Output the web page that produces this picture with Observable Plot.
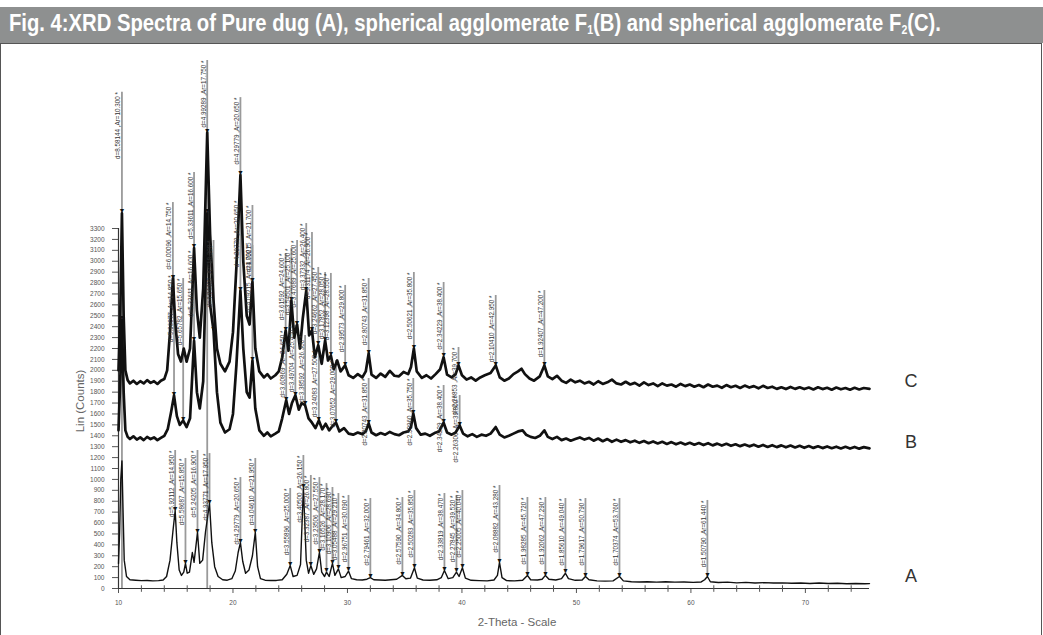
<!DOCTYPE html>
<html><head><meta charset="utf-8">
<script src="https://cdn.jsdelivr.net/npm/d3@7"></script>
<script src="https://cdn.jsdelivr.net/npm/@observablehq/plot@0.6"></script>
<style>
html,body{margin:0;padding:0;background:#fff;width:1043px;height:635px;overflow:hidden;position:relative;font-family:"Liberation Sans",Arial,sans-serif;}
#hdr{position:absolute;left:0;top:7px;width:1043px;height:36px;background:#8e9090;}
#hdr span{position:absolute;left:9px;top:3px;color:#fff;font-weight:bold;font-size:23px;white-space:nowrap;font-family:"Liberation Sans Narrow","Arial Narrow","Liberation Sans",sans-serif;transform-origin:0 0;}
#hdr sub{font-size:12px;vertical-align:-3px;line-height:0;}
#box{position:absolute;left:0;top:43px;width:1042px;height:600px;border:1px solid #555;box-sizing:border-box;}
#chart{position:absolute;left:0;top:45px;}
.lab{position:absolute;color:#333;font-size:18px;font-family:"Liberation Sans",Arial,sans-serif;transform:translate(-50%,-50%);}
.axl{position:absolute;color:#666;font-size:11.5px;font-family:"Liberation Sans",Arial,sans-serif;white-space:nowrap;transform:translate(-50%,-50%);}
</style></head>
<body>
<div id="hdr"><span id="ttl">Fig. 4:XRD Spectra of Pure dug (A), spherical agglomerate F<sub>1</sub>(B) and spherical agglomerate F<sub>2</sub>(C).</span></div>
<div id="box"></div>
<div id="chart"></div>
<div class="axl" style="left:80px;top:401px;transform:translate(-50%,-50%) rotate(-90deg);">Lin (Counts)</div>
<div class="axl" style="left:517px;top:622px;">2-Theta - Scale</div>
<div class="lab" style="left:911px;top:381px;">C</div>
<div class="lab" style="left:911px;top:442px;">B</div>
<div class="lab" style="left:911px;top:576px;">A</div>
<script>
// ---- data: 2-theta (deg) vs counts ----
const traceA = [[10.0,230],[10.1,520],[10.2,1000],[10.3,1170],[10.4,700],[10.5,260],[10.7,110],[11.0,80],[11.5,76],[12.0,72],[12.5,74],[13.0,70],[13.5,72],[13.9,78],[14.2,110],[14.5,260],[14.75,520],[14.95,715],[15.1,420],[15.3,170],[15.5,120],[15.7,150],[15.85,230],[16.0,140],[16.2,150],[16.45,330],[16.6,240],[16.9,515],[17.1,230],[17.35,260],[17.6,520],[17.95,780],[18.15,420],[18.4,200],[18.7,110],[19.1,80],[19.5,76],[19.9,90],[20.2,160],[20.45,330],[20.65,420],[20.85,250],[21.1,140],[21.4,170],[21.7,300],[21.95,515],[22.15,200],[22.4,90],[22.8,76],[23.3,73],[23.8,74],[24.3,80],[24.7,130],[25.0,210],[25.25,110],[25.6,120],[25.9,220],[26.15,925],[26.4,260],[26.6,140],[26.8,210],[27.05,130],[27.3,180],[27.55,330],[27.75,150],[28.0,110],[28.17,150],[28.4,110],[28.69,230],[28.9,120],[29.21,180],[29.45,100],[29.8,110],[30.09,160],[30.35,90],[30.8,80],[31.3,78],[31.7,85],[32.0,100],[32.3,80],[32.8,78],[33.3,76],[33.8,80],[34.3,85],[34.8,120],[35.1,90],[35.5,95],[35.85,190],[36.1,95],[36.6,78],[37.2,76],[37.8,80],[38.2,100],[38.47,165],[38.8,90],[39.2,100],[39.52,150],[39.75,110],[40.04,190],[40.3,95],[40.8,75],[41.5,72],[42.2,70],[42.8,78],[43.1,120],[43.28,240],[43.5,100],[43.9,72],[44.6,70],[45.3,75],[45.72,120],[46.0,80],[46.6,78],[47.0,85],[47.29,120],[47.6,85],[48.2,78],[48.7,90],[49.04,140],[49.3,90],[49.9,75],[50.5,78],[50.79,110],[51.1,80],[51.8,70],[52.5,68],[53.2,70],[53.76,110],[54.1,70],[54.8,62],[55.5,60],[56.2,62],[57.0,58],[57.8,62],[58.6,58],[59.4,60],[60.2,56],[60.9,60],[61.2,80],[61.44,110],[61.7,62],[62.4,55],[63.2,58],[64.0,52],[64.8,56],[65.6,50],[66.4,54],[67.2,50],[68.0,52],[68.8,48],[69.6,50],[70.4,46],[71.2,50],[72.0,46],[72.8,48],[73.6,44],[74.4,46],[75.2,44],[75.6,45]];

const traceB = [[10.0,1450],[10.15,1900],[10.3,2460],[10.45,1800],[10.6,1450],[10.8,1390],[11.0,1370],[11.3,1395],[11.6,1365],[11.9,1385],[12.2,1360],[12.5,1390],[12.8,1370],[13.1,1385],[13.4,1360],[13.7,1380],[14.0,1400],[14.3,1460],[14.6,1620],[14.85,1770],[15.1,1580],[15.35,1500],[15.65,1540],[15.95,1480],[16.25,1560],[16.6,2270],[16.85,1800],[17.1,1650],[17.4,1900],[17.75,3440],[18.0,2600],[18.3,2365],[18.6,1800],[18.9,1520],[19.3,1430],[19.7,1460],[20.0,1600],[20.3,2050],[20.65,2730],[20.9,2200],[21.2,1800],[21.45,1750],[21.7,2090],[21.95,1650],[22.3,1450],[22.7,1400],[23.0,1430],[23.3,1395],[23.7,1420],[24.0,1440],[24.3,1560],[24.65,1725],[24.9,1600],[25.15,1700],[25.45,1770],[25.75,1640],[26.0,1700],[26.3,1680],[26.6,1560],[26.9,1520],[27.2,1470],[27.5,1540],[27.8,1460],[28.1,1510],[28.4,1450],[28.7,1490],[29.0,1520],[29.3,1440],[29.7,1470],[30.1,1420],[30.5,1410],[30.9,1430],[31.3,1415],[31.6,1440],[31.85,1513],[32.1,1430],[32.5,1405],[32.9,1425],[33.3,1410],[33.7,1435],[34.1,1415],[34.5,1405],[34.9,1430],[35.3,1440],[35.55,1480],[35.75,1604],[36.0,1470],[36.4,1410],[36.8,1420],[37.2,1400],[37.6,1425],[38.0,1440],[38.4,1520],[38.7,1430],[39.1,1410],[39.45,1430],[39.8,1495],[40.1,1420],[40.5,1395],[40.9,1415],[41.3,1390],[41.7,1410],[42.1,1400],[42.5,1420],[42.95,1480],[43.3,1410],[43.7,1385],[44.1,1400],[44.5,1420],[44.9,1440],[45.3,1450],[45.6,1410],[46.0,1390],[46.4,1380],[46.8,1400],[47.2,1450],[47.5,1390],[47.9,1370],[48.3,1390],[48.7,1360],[49.1,1375],[49.5,1355],[49.9,1370],[50.3,1385],[50.7,1365],[51.1,1380],[51.5,1355],[51.9,1375],[52.3,1350],[52.7,1370],[53.1,1345],[53.5,1365],[53.9,1345],[54.3,1360],[54.7,1340],[55.1,1355],[55.5,1335],[55.9,1352],[56.3,1332],[56.7,1348],[57.1,1330],[57.5,1345],[57.9,1325],[58.3,1342],[58.7,1322],[59.1,1338],[59.5,1320],[59.9,1336],[60.3,1318],[60.7,1333],[61.1,1315],[61.5,1332],[61.9,1312],[62.3,1328],[62.7,1310],[63.1,1326],[63.5,1308],[63.9,1322],[64.3,1305],[64.7,1320],[65.1,1303],[65.5,1318],[65.9,1300],[66.3,1316],[66.7,1298],[67.1,1314],[67.5,1296],[67.9,1312],[68.3,1294],[68.7,1310],[69.1,1293],[69.5,1308],[69.9,1290],[70.3,1306],[70.7,1289],[71.1,1304],[71.5,1287],[71.9,1302],[72.3,1286],[72.7,1300],[73.1,1284],[73.5,1299],[73.9,1283],[74.3,1298],[74.7,1282],[75.1,1296],[75.6,1285]];

const traceC = [[10.0,2000],[10.15,2500],[10.3,3440],[10.45,2500],[10.6,2000],[10.8,1910],[11.0,1880],[11.3,1905],[11.6,1875],[11.9,1900],[12.2,1880],[12.5,1910],[12.8,1885],[13.1,1900],[13.4,1875],[13.7,1905],[14.0,1920],[14.25,2000],[14.5,2350],[14.75,2840],[14.95,2450],[15.2,2150],[15.45,2080],[15.7,2200],[15.95,2080],[16.25,2200],[16.6,3120],[16.85,2550],[17.1,2300],[17.4,2750],[17.75,4180],[18.0,3250],[18.3,2640],[18.6,2200],[18.9,2060],[19.3,1990],[19.7,2080],[20.0,2350],[20.3,2950],[20.65,3790],[20.9,3000],[21.2,2500],[21.45,2420],[21.7,2810],[21.95,2200],[22.3,1990],[22.7,1935],[23.0,1965],[23.3,1925],[23.7,1955],[24.0,1990],[24.3,2120],[24.6,2365],[24.85,2180],[25.1,2640],[25.35,2300],[25.6,2420],[25.85,2200],[26.1,2480],[26.4,2730],[26.65,2320],[26.9,2365],[27.15,2120],[27.45,2230],[27.75,2060],[28.05,2275],[28.3,2090],[28.55,2135],[28.8,2010],[29.1,2090],[29.4,1990],[29.8,2045],[30.1,1955],[30.5,1930],[30.9,1965],[31.3,1935],[31.6,1990],[31.85,2155],[32.1,1960],[32.5,1930],[32.9,1970],[33.3,1940],[33.7,1995],[34.1,1950],[34.5,1945],[34.9,1985],[35.3,1965],[35.55,2030],[35.8,2200],[36.05,1990],[36.5,1930],[36.9,1955],[37.3,1925],[37.7,1965],[38.1,2010],[38.4,2120],[38.7,1960],[39.1,1935],[39.45,1965],[39.7,2045],[40.0,1955],[40.4,1915],[40.8,1935],[41.2,1905],[41.6,1935],[42.0,1955],[42.5,1975],[42.95,2045],[43.3,1935],[43.7,1905],[44.1,1925],[44.5,1965],[44.9,1990],[45.2,2015],[45.5,1965],[45.9,1925],[46.3,1905],[46.8,1945],[47.2,2045],[47.5,1945],[47.9,1920],[48.3,1950],[48.7,1905],[49.1,1885],[49.5,1915],[49.9,1890],[50.3,1905],[50.7,1880],[51.1,1895],[51.5,1870],[51.9,1900],[52.3,1875],[52.7,1890],[53.1,1915],[53.5,1880],[53.9,1870],[54.3,1895],[54.7,1870],[55.1,1885],[55.5,1860],[55.9,1890],[56.3,1865],[56.7,1880],[57.1,1855],[57.5,1880],[57.9,1860],[58.3,1870],[58.7,1850],[59.1,1875],[59.5,1855],[59.9,1870],[60.3,1850],[60.7,1865],[61.1,1845],[61.5,1870],[61.9,1850],[62.3,1860],[62.7,1840],[63.1,1865],[63.5,1845],[63.9,1858],[64.3,1838],[64.7,1860],[65.1,1842],[65.5,1855],[65.9,1835],[66.3,1858],[66.7,1838],[67.1,1850],[67.5,1830],[67.9,1845],[68.3,1828],[68.7,1848],[69.1,1830],[69.5,1845],[69.9,1828],[70.3,1842],[70.7,1825],[71.1,1845],[71.5,1828],[71.9,1840],[72.3,1822],[72.7,1842],[73.1,1826],[73.5,1838],[73.9,1822],[74.3,1840],[74.7,1825],[75.1,1838],[75.6,1830]];

// peak-search sticks: [2-theta, label top (counts), marker (counts), stick bottom (counts, optional)]
const sticksC = [[10.3,4550,3440,0],[14.75,3538,2840],[16.6,3813,3120],[17.75,4840,4180,0],[20.65,4500,3790],[21.7,3511,2810],[24.6,3071,2365],[25.1,3117,2640],[25.6,3190,2420],[26.4,3346,2730],[26.9,3263,2365],[27.45,2943,2230],[28.05,2897,2275],[28.55,2888,2135],[29.8,2778,2045],[31.85,2842,2155],[35.8,2897,2200],[38.4,2805,2120],[39.7,2209,2045],[42.95,2686,2045],[47.2,2732,2045]];
const sticksB = [[14.85,2870,1770],[15.65,2842,1540],[16.6,3098,2270],[18.3,3190,2365],[20.65,3557,2730],[21.7,3144,2090],[24.65,2365,1725],[25.45,2411,1770],[26.3,2319,1680],[27.5,2182,1540],[29.0,2090,1520],[31.85,1925,1513],[35.75,1925,1604],[38.4,1861,1520],[39.8,1769,1495]];
const sticksA = [[14.95,1265,715],[15.85,1192,230],[16.9,1265,515],[17.95,1237,780],[20.65,1017,420],[21.95,1192,515],[25.0,917,210],[26.15,1219,925],[26.8,1036,210],[27.55,1017,330],[28.17,962,150],[28.69,926,230],[29.21,871,180],[30.09,853,160],[32.0,825,100],[34.8,834,120],[35.85,898,190],[38.47,871,165],[39.52,853,150],[40.04,898,190],[43.28,944,240],[45.72,834,120],[47.29,834,120],[49.04,825,140],[50.79,825,110],[53.76,825,110],[61.44,807,110]];
const markersB10 = [[10.3,2460],[17.75,3440]]; // B peaks marked under C's long sticks

const xMajor = [10,20,30,40,50,60,70];
const xMinor = [12,14,16,18,22,24,26,28,32,34,36,38,42,44,46,48,52,54,56,58,62,64,66,68,72,74];
const yTicks = d3.range(0, 3301, 100);
const wavelength = 1.5406; // Cu K-alpha, for the d-spacing labels

const sticks = [...sticksC, ...sticksB, ...sticksA].map(([t, top, apex, bottom]) => ({t, top, apex,
  bottom: bottom ?? apex,
  label: `d=${(wavelength / (2 * Math.sin(t / 2 * Math.PI / 180))).toFixed(5)} ,Ar=${t.toFixed(3)} *`}));
const marks = [...sticks.map(d => ({t: d.t, apex: d.apex})), ...markersB10.map(([t, apex]) => ({t, apex}))];

const chart = Plot.plot({
  width: 1043, height: 588,
  marginTop: 10, marginBottom: 45, marginLeft: 118, marginRight: 174,
  style: {fontSize: "6.5px", color: "#555", fontFamily: "Liberation Sans, Arial, sans-serif", background: "transparent"},
  x: {domain: [10, 75.6], ticks: xMajor, tickSize: 5, tickPadding: 7, label: null},
  y: {domain: [0, 4886], ticks: yTicks, tickSize: 6, tickPadding: 8, label: null, tickFormat: d => String(d)},
  marks: [
    Plot.ruleX(sticks, {x: "t", y1: "bottom", y2: "top", stroke: "#9a9a9a", strokeWidth: 1.8}),
    Plot.ruleY([0], {x1: 10, x2: 75.6, stroke: "#333", strokeWidth: 1.2}),
    Plot.ruleX([10], {y1: 0, y2: 3300, stroke: "#333", strokeWidth: 1.2}),
    Plot.ruleX(xMinor, {y1: -35, y2: 25, stroke: "#555", strokeWidth: 1}),
    Plot.line(traceA, {x: d => d[0], y: d => d[1], stroke: "#111", strokeWidth: 1.4}),
    Plot.line(traceB, {x: d => d[0], y: d => d[1], stroke: "#111", strokeWidth: 2.7}),
    Plot.line(traceC, {x: d => d[0], y: d => d[1], stroke: "#111", strokeWidth: 2.7}),
    Plot.text(marks, {x: "t", y: "apex", text: () => "\u25BC", fontSize: 7, fill: "#111", dy: -2}),
    Plot.text(sticks, {x: "t", y: "top", text: "label", rotate: -90, textAnchor: "end", lineAnchor: "bottom", dx: -1.5, fontSize: 6.3, fill: "#333"})
  ]
});
document.getElementById("chart").appendChild(chart);

// fit the title to the width it occupies in the figure
const ttl = document.getElementById("ttl");
const w = ttl.getBoundingClientRect().width;
ttl.style.transform = `scaleX(${932 / w})`;
</script>
</body></html>
